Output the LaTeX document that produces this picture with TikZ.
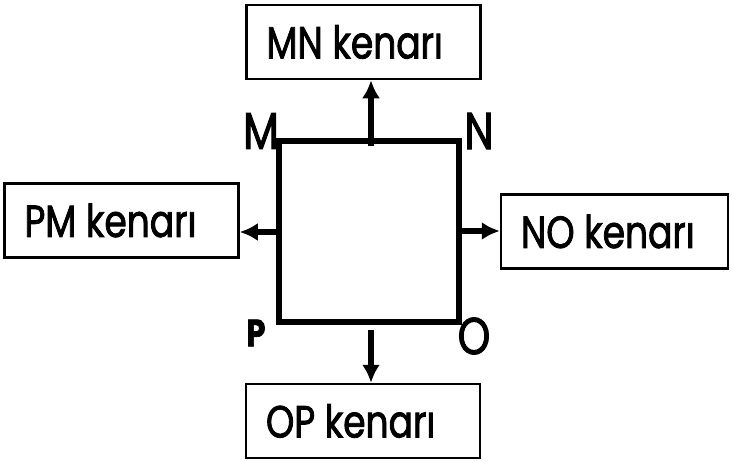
\documentclass[tikz,border=0pt]{standalone}
\usepackage{fontspec}
\setmainfont{Poppins}[FakeStretch=0.8,FakeBold=1.8]
\usetikzlibrary{arrows.meta}
\begin{document}
\begin{tikzpicture}[x=1pt,y=-1pt]

\tikzset{
box/.style={draw,line width=2.5pt,minimum height=74pt,text width=194pt,inner xsep=20pt,align=flush left,
  font={\fontsize{45pt}{50pt}\selectfont}},
corner/.style={inner sep=0pt,font={\fontsize{52pt}{60pt}\selectfont}},
edge/.style={-{Latex[length=18pt,width=18pt]},line width=6pt}
}
\useasboundingbox (0,0) rectangle (732,461);

% square
\coordinate (M) at (279,141);
\coordinate (N) at (459,141);
\coordinate (O) at (459,322);
\coordinate (P) at (279,322);
\draw[line width=6.5pt,line join=miter] (M) -- (N) -- (O) -- (P) -- cycle;

% corner letters
\node[corner] (mlab) at (261,131) {M};
\node[corner] (nlab) at (479,131) {N};
\node[corner,font={\fontsize{38pt}{40pt}\selectfont\bfseries}] (plab) at (256,333) {P};
\node[corner] (olab) at (474,336) {O};

% side boxes
\node[box] (mn) at (363.5,42)  {MN kenarı};
\node[box] (pm) at (121.5,220.5) {PM kenarı};
\node[box,text width=187pt] (no) at (614.5,231.5) {NO kenarı};
\node[box] (op) at (363,421) {OP kenarı};

% arrows
\coordinate (top) at (371,146);
\coordinate (left) at (281,232);
\coordinate (right) at (457,231);
\coordinate (bottom) at (371,330);

\draw[edge] (top) -- (top |- mn.south);
\draw[edge] (left) -- (left -| pm.east);
\draw[edge] (right) -- (right -| no.west);
\draw[edge] (bottom) -- (bottom |- op.north);

\end{tikzpicture}
\end{document}
